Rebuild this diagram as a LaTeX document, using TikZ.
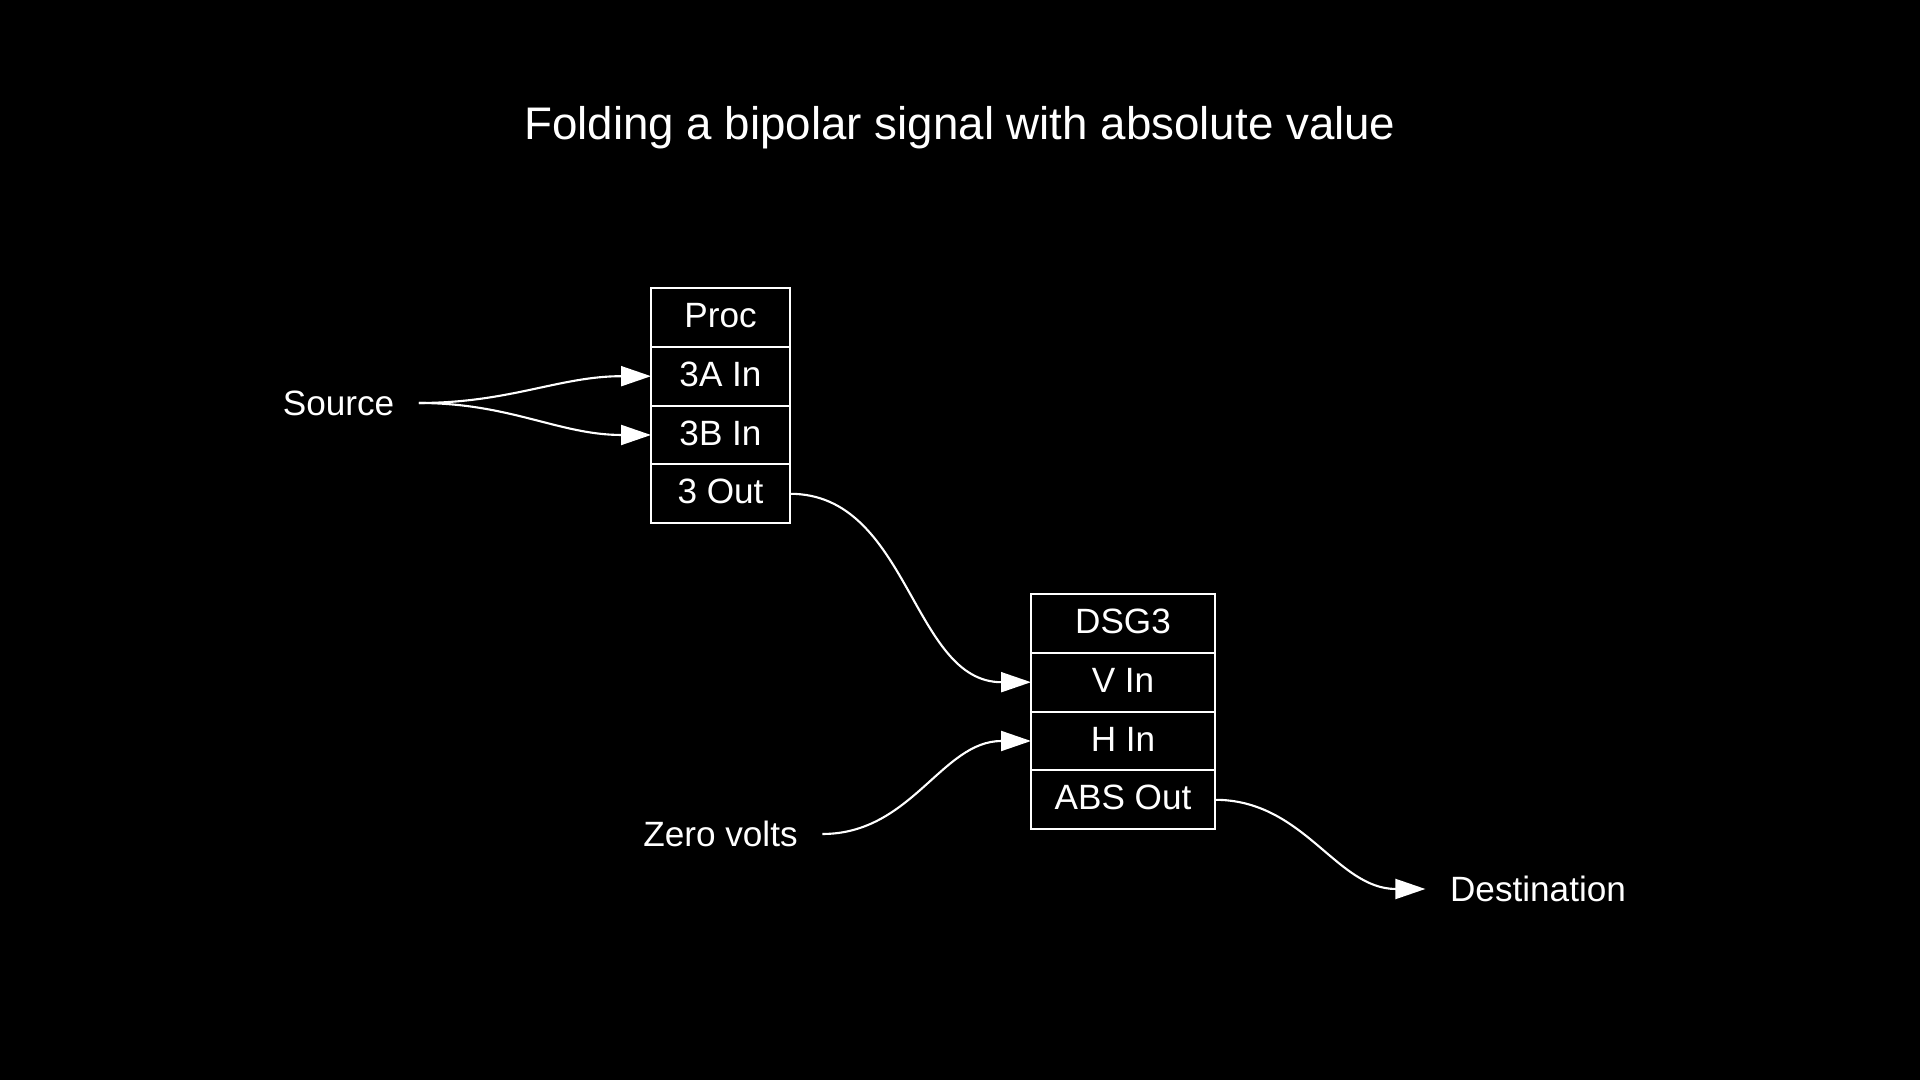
\documentclass[tikz,border=0pt]{standalone}
\usepackage{fontspec}
\setmainfont{Liberation Sans}
\usetikzlibrary{arrows.meta,positioning}
\tikzset{
  fold cell/.style={draw=white,line width=.6pt,text=white,outer sep=0pt,inner sep=0pt,
    minimum height=5.88mm,text height=5.8pt,text depth=0pt,font=\fontsize{10}{12}\selectfont},
  fold label/.style={text=white,inner xsep=2.4mm,inner ysep=0pt,text height=7.2pt,
    text depth=0pt,font=\fontsize{10}{12}\selectfont},
  fold wire/.style={white,line width=.6pt,-{Triangle[length=3mm,width=2mm]}}
}
\begin{document}
\begin{tikzpicture}
  \fill[black] (0,0) rectangle (19.2,10.8);
  \useasboundingbox (0,0) rectangle (19.2,10.8);
  \node[text=white,font=\fontsize{13}{16}\selectfont] (title) at (9.6,9.52) {Folding a bipolar signal with absolute value};
  % processor block
  \node[fold cell,minimum width=13.9mm] (proc) at (7.205,7.626) {Proc};
  \node[fold cell,minimum width=13.9mm,below=0pt of proc] (proc3a) {3A In};
  \node[fold cell,minimum width=13.9mm,below=0pt of proc3a] (proc3b) {3B In};
  \node[fold cell,minimum width=13.9mm,below=0pt of proc3b] (proc3out) {3 Out};
  % DSG3 block
  \node[fold cell,minimum width=18.4mm] (dsg) at (11.23,4.566) {DSG3};
  \node[fold cell,minimum width=18.4mm,below=0pt of dsg] (dsgv) {V In};
  \node[fold cell,minimum width=18.4mm,below=0pt of dsgv] (dsgh) {H In};
  \node[fold cell,minimum width=18.4mm,below=0pt of dsgh] (dsgabs) {ABS Out};
  % free ends
  \node[fold label] (source) at (3.385,6.77) {Source};
  \node[fold label] (zero) at (7.205,2.46) {Zero volts};
  \node[fold label] (dest) at (15.38,1.91) {Destination};
  % wires
  \draw[fold wire] (source.east) to[out=0,in=180] (proc3a.west);
  \draw[fold wire] (source.east) to[out=0,in=180] (proc3b.west);
  \draw[fold wire] (proc3out.east) to[out=0,in=180] (dsgv.west);
  \draw[fold wire] (zero.east) to[out=0,in=180] (dsgh.west);
  \draw[fold wire] (dsgabs.east) to[out=0,in=180] (dest.west);
\end{tikzpicture}
\end{document}
